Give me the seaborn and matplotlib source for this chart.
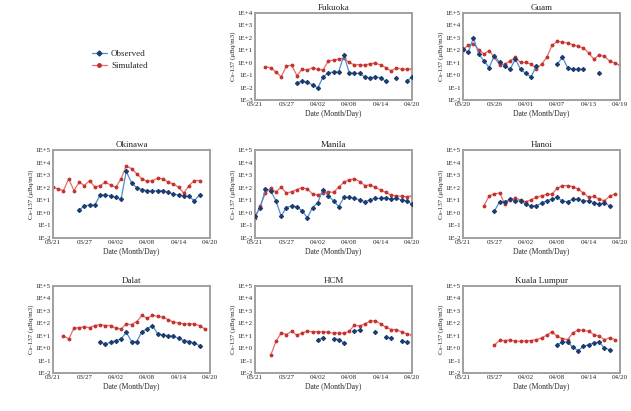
import numpy as np
import pandas as pd
import matplotlib
matplotlib.use("Agg")
import matplotlib.pyplot as plt
import seaborn as sns
from matplotlib.lines import Line2D
from matplotlib.ticker import FixedLocator, MultipleLocator, NullFormatter

sns.set_style("white")
plt.rcParams['font.family'] = ['Liberation Serif', 'DejaVu Serif']

# ---------------- data (day 0 = first tick date; values are log10 of Cs-137) ----------------
tick_labels_main = ["03/21", "03/27", "04/02", "04/08", "04/14", "04/20"]
tick_labels_guam = ["03/20", "03/26", "04/01", "04/07", "04/13", "04/19"]

fukuoka_sim_days = list(range(2, 31))
fukuoka_sim_log = [-0.34, -0.40, -0.75, -1.14, -0.26, -0.20, -1.03, -0.53, -0.59, -0.40, -0.53, -0.59,
                   0.15, 0.21, 0.29, 0.35, 0.02, -0.18, -0.15, -0.20, -0.07, -0.04, -0.18, -0.40,
                   -0.67, -0.40, -0.53, -0.53, -0.48]
fukuoka_obs_days = [8, 9, 10, 11, 12, 13, 14, 15, 16, 17, 18, 19, 20, 21, 22, 23, 24, 25, 27, 29, 30]
fukuoka_obs_log = [-1.63, -1.49, -1.58, -1.77, -2.04, -1.14, -0.81, -0.75, -0.73, 0.62, -0.81, -0.86,
                   -0.86, -1.16, -1.22, -1.14, -1.22, -1.49, -1.22, -1.49, -1.14]

guam_sim_days = list(range(0, 31))
guam_sim_log = [2.06, 2.39, 2.53, 2.06, 1.70, 1.98, 1.43, 0.82, 0.88, 1.15, 1.43, 1.02, 1.02, 0.88,
                0.52, 0.88, 1.43, 2.39, 2.72, 2.66, 2.58, 2.45, 2.31, 2.20, 1.79, 1.29, 1.62, 1.51,
                1.15, 0.96, 0.80]
guam_obs_days = [0, 1, 2, 3, 4, 5, 6, 7, 8, 9, 10, 11, 12, 13, 14, 18, 19, 20, 21, 22, 23, 26]
guam_obs_log = [2.12, 1.84, 3.00, 1.70, 1.15, 0.60, 1.57, 1.02, 0.74, 0.47, 1.29, 0.47, 0.14, -0.14,
                0.74, 0.88, 1.43, 0.60, 0.47, 0.47, 0.47, 0.19]

okinawa_sim_days = list(range(0, 29))
okinawa_sim_log = [2.04, 1.90, 1.77, 2.71, 1.77, 2.44, 2.17, 2.57, 2.04, 2.17, 2.44, 2.22, 2.04, 2.71,
                   3.73, 3.52, 3.11, 2.71, 2.52, 2.57, 2.76, 2.71, 2.44, 2.30, 2.04, 1.58, 2.17, 2.57,
                   2.57]
okinawa_obs_days = list(range(5, 29))
okinawa_obs_log = [0.23, 0.55, 0.63, 0.61, 1.42, 1.42, 1.36, 1.23, 1.09, 3.30, 2.40, 2.00, 1.85, 1.77,
                   1.71, 1.77, 1.77, 1.63, 1.50, 1.42, 1.36, 1.31, 0.96, 1.42]

manila_sim_days = list(range(0, 31))
manila_sim_log = [-0.39, 0.55, 1.58, 1.95, 1.68, 2.04, 1.58, 1.68, 1.85, 2.01, 1.90, 1.50, 1.42, 1.58,
                  1.68, 1.63, 2.04, 2.44, 2.63, 2.71, 2.49, 2.17, 2.22, 2.04, 1.82, 1.63, 1.42, 1.36,
                  1.31, 1.28, 1.36]
manila_obs_days = list(range(0, 31))
manila_obs_log = [-0.26, 0.42, 1.90, 1.77, 0.96, -0.26, 0.42, 0.55, 0.50, 0.15, -0.39, 0.42, 0.82,
                  1.85, 1.36, 0.96, 0.50, 1.23, 1.23, 1.15, 1.04, 0.88, 1.04, 1.15, 1.15, 1.20, 1.09,
                  1.15, 1.04, 0.96, 0.69]

hanoi_sim_days = list(range(4, 30))
hanoi_sim_log = [0.55, 1.36, 1.50, 1.58, 0.69, 1.04, 1.15, 1.04, 0.88, 1.04, 1.23, 1.36, 1.47, 1.50,
                 1.95, 2.17, 2.17, 2.09, 1.90, 1.58, 1.23, 1.31, 1.09, 0.96, 1.31, 1.50]
hanoi_obs_days = list(range(6, 29))
hanoi_obs_log = [0.15, 0.88, 0.88, 1.09, 0.96, 0.96, 0.69, 0.55, 0.55, 0.77, 0.96, 1.09, 1.23, 0.93,
                 0.88, 1.09, 1.09, 0.96, 0.96, 0.82, 0.69, 0.82, 0.55]

dalat_sim_days = list(range(2, 30))
dalat_sim_log = [1.01, 0.74, 1.60, 1.66, 1.71, 1.66, 1.82, 1.90, 1.82, 1.82, 1.60, 1.55, 1.93, 1.90,
                 2.14, 2.63, 2.41, 2.63, 2.57, 2.49, 2.30, 2.09, 2.03, 1.95, 1.95, 1.93, 1.82, 1.55]
dalat_obs_days = list(range(9, 29))
dalat_obs_log = [0.47, 0.34, 0.47, 0.61, 0.74, 1.28, 0.53, 0.53, 1.33, 1.55, 1.82, 1.15, 1.06, 1.01,
                 0.96, 0.80, 0.61, 0.53, 0.42, 0.20]

hcm_sim_days = list(range(3, 31))
hcm_sim_log = [-0.58, 0.55, 1.23, 1.09, 1.36, 1.04, 1.23, 1.36, 1.31, 1.33, 1.31, 1.28, 1.20, 1.23,
               1.20, 1.36, 1.85, 1.77, 1.95, 2.17, 2.22, 1.95, 1.68, 1.50, 1.50, 1.31, 1.15, 1.04]
hcm_obs_days = [12, 13, 15, 16, 17, 19, 20, 23, 25, 26, 28, 29]
hcm_obs_log = [0.69, 0.82, 0.77, 0.69, 0.42, 1.36, 1.47, 1.28, 0.88, 0.82, 0.55, 0.47]

kl_sim_days = list(range(6, 30))
kl_sim_log = [0.23, 0.63, 0.61, 0.66, 0.55, 0.55, 0.58, 0.61, 0.69, 0.82, 1.04, 1.31, 0.96, 0.77,
              0.69, 1.23, 1.47, 1.42, 1.36, 1.09, 0.96, 0.69, 0.82, 0.69]
kl_obs_days = list(range(18, 29))
kl_obs_log = [0.28, 0.50, 0.50, 0.07, -0.20, 0.15, 0.28, 0.42, 0.50, 0.01, -0.12]

panels = [
    ("Fukuoka", fukuoka_sim_days, fukuoka_sim_log, fukuoka_obs_days, fukuoka_obs_log, (-3, 4), tick_labels_main),
    ("Guam", guam_sim_days, guam_sim_log, guam_obs_days, guam_obs_log, (-2, 5), tick_labels_guam),
    ("Okinawa", okinawa_sim_days, okinawa_sim_log, okinawa_obs_days, okinawa_obs_log, (-2, 5), tick_labels_main),
    ("Manila", manila_sim_days, manila_sim_log, manila_obs_days, manila_obs_log, (-2, 5), tick_labels_main),
    ("Hanoi", hanoi_sim_days, hanoi_sim_log, hanoi_obs_days, hanoi_obs_log, (-2, 5), tick_labels_main),
    ("Dalat", dalat_sim_days, dalat_sim_log, dalat_obs_days, dalat_obs_log, (-2, 5), tick_labels_main),
    ("HCM", hcm_sim_days, hcm_sim_log, hcm_obs_days, hcm_obs_log, (-2, 5), tick_labels_main),
    ("Kuala Lumpur", kl_sim_days, kl_sim_log, kl_obs_days, kl_obs_log, (-2, 5), tick_labels_main),
]

# ---------------- layout / style ----------------
W, H = 631, 411
cols_px = [53, 255, 463]
rows_px = [(13, 100), (150, 238), (286, 373)]
ax_w = 157
slots = [(0, 1), (0, 2), (1, 0), (1, 1), (1, 2), (2, 0), (2, 1), (2, 2)]

SIM_LINE = "#e3706b"
SIM_MK = "#c4302b"
OBS_LINE = "#4a8fd0"
OBS_MK = "#1d3b6e"
FRAME = "#a0a0a0"

fig = plt.figure(figsize=(W / 100, H / 100), dpi=100)

for (name, sd, sl, od, ol, (ymin_e, ymax_e), xlabels), (r, c) in zip(panels, slots):
    top, bot = rows_px[r]
    ax = fig.add_axes([cols_px[c] / W, 1 - bot / H, ax_w / W, (bot - top) / H])

    sim_df = pd.DataFrame({"day": sd, "value": 10 ** np.array(sl)})
    od_arr = np.array(od)
    seg = np.concatenate([[0], np.cumsum(np.diff(od_arr) > 1)])
    obs_df = pd.DataFrame({"day": od_arr, "value": 10 ** np.array(ol), "seg": seg})

    sns.lineplot(data=sim_df, x="day", y="value", ax=ax, color=SIM_LINE, lw=0.9,
                 marker="o", markersize=2.0, markerfacecolor=SIM_MK, markeredgecolor=SIM_MK,
                 estimator=None, zorder=2)
    sns.lineplot(data=obs_df, x="day", y="value", units="seg", ax=ax, color=OBS_LINE, lw=0.9,
                 marker="D", markersize=2.2, markerfacecolor=OBS_MK, markeredgecolor=OBS_MK,
                 estimator=None, zorder=3)

    ax.set_yscale("log")
    ax.set_ylim(10.0 ** ymin_e, 10.0 ** ymax_e)
    exps = list(range(ymin_e, ymax_e + 1))
    ax.yaxis.set_major_locator(FixedLocator([10.0 ** e for e in exps]))
    ax.set_yticklabels([f"1E{e:+d}" for e in exps])
    ax.yaxis.set_minor_locator(FixedLocator([]))
    ax.yaxis.set_minor_formatter(NullFormatter())

    ax.set_xlim(0, 30)
    ax.xaxis.set_major_locator(FixedLocator([0, 6, 12, 18, 24, 30]))
    ax.set_xticklabels(xlabels)
    ax.xaxis.set_minor_locator(MultipleLocator(1))

    ax.tick_params(axis="both", which="major", direction="in", length=2.5, width=0.6,
                   labelsize=5, pad=1.5, color="#333333")
    ax.tick_params(axis="x", which="minor", direction="in", length=1.6, width=0.5, color="#333333")
    for s in ax.spines.values():
        s.set_color(FRAME)
        s.set_linewidth(1.4)

    ax.set_title(name, fontsize=6.5, pad=2)
    ax.set_xlabel("Date (Month/Day)", fontsize=5.5, labelpad=2)
    ax.set_ylabel("Cs-137 (μBq/m3)", fontsize=5, labelpad=1.5)

handles = [
    Line2D([], [], color=OBS_LINE, lw=0.9, marker="D", markersize=2.5,
           markerfacecolor=OBS_MK, markeredgecolor=OBS_MK, label="Observed"),
    Line2D([], [], color=SIM_LINE, lw=0.9, marker="o", markersize=2.5,
           markerfacecolor=SIM_MK, markeredgecolor=SIM_MK, label="Simulated"),
]
fig.legend(handles=handles, loc="center", bbox_to_anchor=(0.19, 0.855), frameon=False,
           fontsize=6.5, handlelength=1.6, handletextpad=0.5, labelspacing=0.4)

fig.savefig("out.png", dpi=100)
